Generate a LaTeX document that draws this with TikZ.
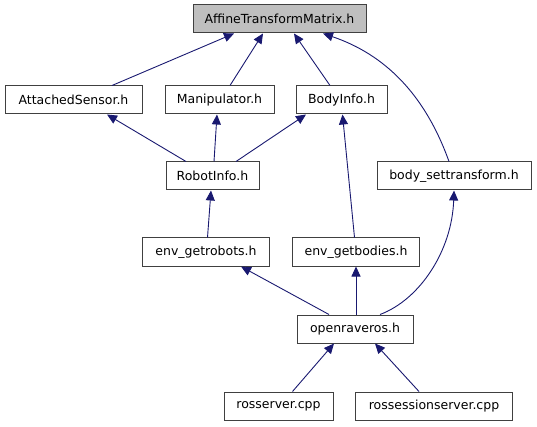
\documentclass[tikz,border=0pt]{standalone}
\usepackage{fontspec}
\setmainfont{DejaVu Sans}
\usetikzlibrary{arrows.meta}
\definecolor{edgeblue}{HTML}{191970}
\definecolor{boxgray}{HTML}{404040}
\definecolor{rootfill}{HTML}{BFBFBF}
\begin{document}
\begin{tikzpicture}[x=1pt, y=-1pt, >={Triangle[length=10pt,width=9pt]},
  file/.style={draw=boxgray, line width=1pt, rectangle, minimum height=28pt, inner sep=0pt, font=\fontsize{12.5}{15}\selectfont},
  dep/.style={->, draw=edgeblue, line width=0.9pt}]
\useasboundingbox (0,0) rectangle (537,427);
% files
\node[file, fill=rootfill, minimum width=173pt] (affine) at (279.5,19) {AffineTransformMatrix.h};
\node[file, minimum width=137pt] (sensor) at (73.5,100) {AttachedSensor.h};
\node[file, minimum width=109pt] (manip) at (219.5,100) {Manipulator.h};
\node[file, minimum width=91pt] (bodyinfo) at (341.5,100) {BodyInfo.h};
\node[file, minimum width=93pt] (robotinfo) at (212.5,176) {RobotInfo.h};
\node[file, minimum width=154pt] (settransform) at (454,176) {body\_settransform.h};
\node[file, minimum width=127pt] (getrobots) at (206,252) {env\_getrobots.h};
\node[file, minimum width=127pt] (getbodies) at (356,252) {env\_getbodies.h};
\node[file, minimum width=116pt] (openraveros) at (355,329) {openraveros.h};
\node[file, minimum width=109pt] (rosserver) at (278.5,406) {rosserver.cpp};
\node[file, minimum width=157pt] (rossession) at (434,406) {rossessionserver.cpp};
% includes
\draw[dep] ([xshift=38.5pt]sensor.north) -- ([xshift=-45.5pt]affine.south);
\draw[dep] ([xshift=10.5pt]manip.north) -- ([xshift=-16.5pt]affine.south);
\draw[dep] ([xshift=-11.5pt]bodyinfo.north) -- ([xshift=14.5pt]affine.south);
\draw[dep] ([xshift=-5pt]settransform.north) .. controls +(-24,-67) and +(62,21) .. ([xshift=43.5pt]affine.south);
\draw[dep] ([xshift=-26.5pt]robotinfo.north) -- ([xshift=33.5pt]sensor.south);
\draw[dep] ([xshift=1.5pt]robotinfo.north) -- ([xshift=-2.5pt]manip.south);
\draw[dep] ([xshift=23.5pt]robotinfo.north) -- ([xshift=-35.5pt]bodyinfo.south);
\draw[dep] ([xshift=-1.5pt]getbodies.north) -- ([xshift=1pt]bodyinfo.south);
\draw[dep] ([xshift=1.5pt]getrobots.north) -- ([xshift=-1.5pt]robotinfo.south);
\draw[dep] ([xshift=-26pt]openraveros.north) -- ([xshift=35pt]getrobots.south);
\draw[dep] ([xshift=1pt]openraveros.north) -- (getbodies.south);
\draw[dep] ([xshift=25pt]openraveros.north) .. controls +(40,-15) and +(-2,60) .. (settransform.south);
\draw[dep] ([xshift=14pt]rosserver.north) -- ([xshift=-21pt]openraveros.south);
\draw[dep] ([xshift=-15pt]rossession.north) -- ([xshift=20pt]openraveros.south);
\end{tikzpicture}
\end{document}
